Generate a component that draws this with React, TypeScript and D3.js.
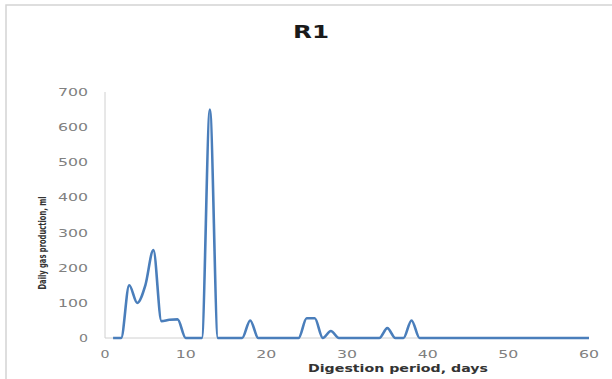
import React from "react";
import * as d3 from "d3";

const days: number[] = Array.from({ length: 60 }, (_, i) => i + 1);
const gas: number[] = [
  0, 0, 150, 100, 150, 250, 48, 52, 53, 0,
  0, 0, 650, 0, 0, 0, 0, 50, 0, 0,
  0, 0, 0, 0, 56, 56, 0, 20, 0, 0,
  0, 0, 0, 0, 28, 0, 0, 50, 0, 0,
  0, 0, 0, 0, 0, 0, 0, 0, 0, 0,
  0, 0, 0, 0, 0, 0, 0, 0, 0, 0,
];
const xTicks: number[] = [0, 10, 20, 30, 40, 50, 60];
const yTicks: number[] = [0, 100, 200, 300, 400, 500, 600, 700];
const title = "R1";
const xTitle = "Digestion period, days";
const yTitle = "Daily gas production, ml";

export default function App() {
  const W = 612, H = 379;
  const x = d3.scaleLinear().domain([0, 60]).range([105, 589]);
  const y = d3.scaleLinear().domain([0, 700]).range([338, 92]);
  const data = days.map((d, i) => [d, gas[i]] as [number, number]);
  const line = d3.line<[number, number]>()
    .x(d => x(d[0]))
    .y(d => y(d[1]))
    .curve(d3.curveMonotoneX);
  const tickColor = "#808080";
  return (
    <svg width={W} height={H} style={{ position: "absolute", left: 0, top: 0, background: "#fff" }}>
      <rect x={6} y={5} width={W} height={H} fill="#fff" stroke="#d4d4d4" strokeWidth={1.5} />
      <text x={311} y={38} textAnchor="middle" fontFamily="DejaVu Sans" fontWeight="bold" fontSize={17} textLength={36} lengthAdjust="spacingAndGlyphs" fill="#1a1a1a">{title}</text>
      <line x1={x(0)} x2={x(0)} y1={y(700)} y2={y(0)} stroke="#d0d0d0" strokeWidth={1} />
      <line x1={x(0)} x2={x(60)} y1={y(0)} y2={y(0)} stroke="#d0d0d0" strokeWidth={1} />
      {yTicks.map(t => (
        <text key={"y" + t} x={88} y={y(t) + 4} textAnchor="end" fontFamily="DejaVu Sans" fontSize={11}
          textLength={t === 0 ? 9 : 30} lengthAdjust="spacingAndGlyphs" fill={tickColor}>{t}</text>
      ))}
      {xTicks.map(t => (
        <text key={"x" + t} x={x(t)} y={358} textAnchor="middle" fontFamily="DejaVu Sans" fontSize={11}
          textLength={t === 0 ? 9 : 20} lengthAdjust="spacingAndGlyphs" fill={tickColor}>{t}</text>
      ))}
      <text x={398} y={372} textAnchor="middle" fontFamily="DejaVu Sans" fontWeight="bold" fontSize={11}
        textLength={180} lengthAdjust="spacingAndGlyphs" fill="#333">{xTitle}</text>
      <text transform={`translate(46,243) rotate(-90)`} textAnchor="middle" fontFamily="DejaVu Sans" fontWeight="bold" fontSize={11}
        textLength={93} lengthAdjust="spacingAndGlyphs" fill="#333">{yTitle}</text>
      <path d={line(data) || ""} fill="none" stroke="#4a7ebb" strokeWidth={2.6} strokeLinejoin="round" />
    </svg>
  );
}
